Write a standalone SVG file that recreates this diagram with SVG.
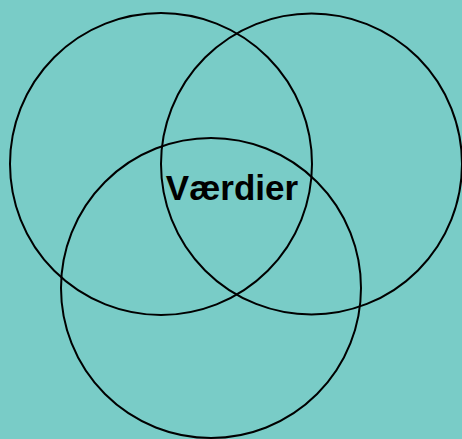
<svg xmlns="http://www.w3.org/2000/svg" width="462" height="439" viewBox="0 0 462 439">
<style>
.c{fill:none;stroke:#000;stroke-width:2}
.t{font-family:"Liberation Sans",Arial,sans-serif;font-weight:bold;font-size:35px;fill:#000}
</style>
<rect width="462" height="439" fill="#79CCC7"/>
<g id="circle-left"><circle class="c" cx="161" cy="164" r="151"/></g>
<g id="circle-right"><circle class="c" cx="311.5" cy="164" r="150.5"/></g>
<g id="circle-bottom"><circle class="c" cx="211" cy="288" r="150"/></g>
<g id="label"><text class="t" x="232" y="200" text-anchor="middle">Værdier</text></g>
</svg>
